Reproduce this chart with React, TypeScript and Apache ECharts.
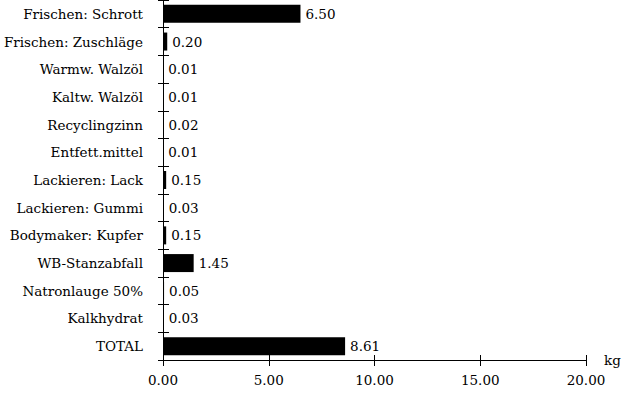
import React, { useEffect, useRef } from "react";
import * as echarts from "echarts";

const categories = [
  "Frischen: Schrott",
  "Frischen: Zuschläge",
  "Warmw. Walzöl",
  "Kaltw. Walzöl",
  "Recyclingzinn",
  "Entfett.mittel",
  "Lackieren: Lack",
  "Lackieren: Gummi",
  "Bodymaker: Kupfer",
  "WB-Stanzabfall",
  "Natronlauge 50%",
  "Kalkhydrat",
  "TOTAL",
];
const values = [6.5, 0.2, 0.01, 0.01, 0.02, 0.01, 0.15, 0.03, 0.15, 1.45, 0.05, 0.03, 8.61];
const xTicks = [0, 5, 10, 15, 20];
const unitLabel = "kg";

const FONT = "DejaVu Serif";
const FS = 13.5;

export default function App() {
  const ref = useRef<HTMLDivElement>(null);
  useEffect(() => {
    if (!ref.current) return;
    const chart = echarts.init(ref.current, undefined, { renderer: "svg" });
    const catsRev = [...categories].reverse();
    const valsRev = [...values].reverse();
    const axisStyle = { color: "#000", width: 1 };
    chart.setOption({
      animation: false,
      grid: { left: 163, right: 40, top: -2, bottom: 39, containLabel: false },
      xAxis: [
        {
          type: "value",
          min: xTicks[0],
          max: xTicks[xTicks.length - 1],
          interval: 5,
          position: "bottom",
          name: unitLabel,
          nameLocation: "end",
          nameGap: 18,
          nameTextStyle: { fontFamily: FONT, fontSize: FS, color: "#000", padding: [0, 0, 6, 0] },
          axisLine: { show: true, lineStyle: axisStyle },
          axisTick: { show: true, length: 6, inside: false, lineStyle: axisStyle },
          axisLabel: {
            fontFamily: FONT,
            fontSize: FS,
            color: "#000",
            margin: 13,
            formatter: (v: number) => v.toFixed(2),
          },
          splitLine: { show: false },
        },
        {
          type: "value",
          min: xTicks[0],
          max: xTicks[xTicks.length - 1],
          interval: 5,
          position: "bottom",
          axisLine: { show: false },
          axisTick: { show: true, length: 5, inside: true, lineStyle: axisStyle },
          axisLabel: { show: false },
          splitLine: { show: false },
        },
      ],
      yAxis: [
        {
          type: "category",
          data: catsRev,
          axisLine: { show: true, lineStyle: axisStyle },
          axisTick: { show: true, length: 5, inside: false, lineStyle: axisStyle },
          axisLabel: { fontFamily: FONT, fontSize: FS, color: "#000", margin: 20 },
        },
        {
          type: "category",
          data: catsRev,
          position: "left",
          axisLine: { show: false },
          axisTick: { show: true, length: 6, inside: true, lineStyle: axisStyle },
          axisLabel: { show: false },
        },
      ],
      series: [
        {
          type: "bar",
          data: valsRev,
          barWidth: 18,
          itemStyle: { color: "#000" },
          label: {
            show: true,
            position: "right",
            distance: 5,
            fontFamily: FONT,
            fontSize: FS,
            color: "#000",
            formatter: (p: any) => Number(p.value).toFixed(2),
          },
        },
      ],
    });
    return () => chart.dispose();
  }, []);
  return <div ref={ref} style={{ width: 626, height: 399, position: "fixed", left: 0, top: 0, background: "#fff" }} />;
}
